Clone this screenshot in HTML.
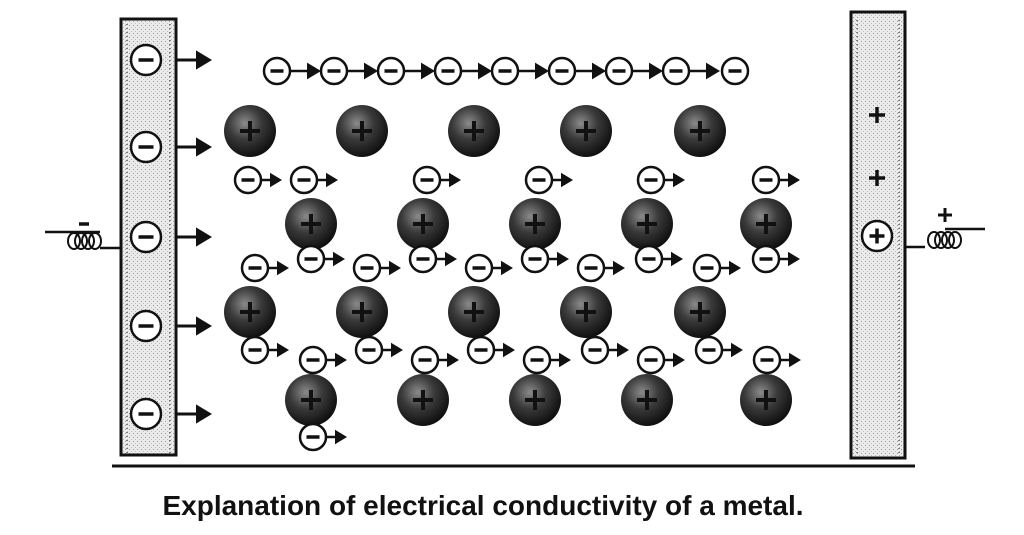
<!DOCTYPE html>
<html><head><meta charset="utf-8"><style>
html,body{margin:0;padding:0;background:#fff;width:1024px;height:535px;overflow:hidden}
#cap{position:absolute;left:0;width:966px;top:490px;text-align:center;font:bold 28px "Liberation Sans",sans-serif;color:#111}
svg{position:absolute;left:0;top:0}
</style></head><body>
<svg id="s" width="1024" height="535" xmlns="http://www.w3.org/2000/svg">
<defs>
<radialGradient id="ion" cx="0.4" cy="0.35" r="0.7">
<stop offset="0" stop-color="#8a8a8a"/><stop offset="0.45" stop-color="#3a3a3a"/><stop offset="1" stop-color="#0a0a0a"/>
</radialGradient>
<pattern id="dots" width="4" height="4" patternUnits="userSpaceOnUse">
<rect width="4" height="4" fill="#ebebeb"/><rect x="1" y="1" width="1" height="1" fill="#999"/><rect x="3" y="3" width="1" height="1" fill="#bbb"/>
</pattern>
</defs>
<g id="g" stroke="#111" fill="none"></g>
</svg>
<div id="cap">Explanation of electrical conductivity of a metal.</div>
<script>
var g=document.getElementById('g'),h='';
function L(x1,y1,x2,y2,w){h+='<line x1="'+x1+'" y1="'+y1+'" x2="'+x2+'" y2="'+y2+'" stroke-width="'+(w||3)+'"/>';}
function tri(x,y,s){h+='<polygon points="'+x+','+(y-s*0.6)+' '+(x+s)+','+y+' '+x+','+(y+s*0.6)+'" fill="#111" stroke="none"/>';}
function el(x,y,r,plus){h+='<circle cx="'+x+'" cy="'+y+'" r="'+r+'" fill="#fff" stroke-width="2.5"/>';L(x-r*0.5,y,x+r*0.5,y,3.5);if(plus)L(x,y-r*0.5,x,y+r*0.5,3.5);}
function ion(x,y){h+='<circle cx="'+x+'" cy="'+y+'" r="26" fill="url(#ion)" stroke="none"/>';L(x-10,y,x+10,y,4);L(x,y-10,x,y+10,4);}
function ea(x,y){el(x,y,13);L(x+13,y,x+24,y,2.5);tri(x+22,y,12);}
h+='<rect x="121" y="19" width="55" height="436" fill="url(#dots)" stroke-width="3"/>';
h+='<rect x="851" y="12" width="54" height="446" fill="url(#dots)" stroke-width="3"/>';
[127,170,857,899].forEach(function(x){h+='<line x1="'+x+'" y1="20" x2="'+x+'" y2="455" stroke="#777" stroke-width="2" stroke-dasharray="1 3"/>';});
[60,147,237,326,414].forEach(function(y){el(146,y,15);L(176,y,198,y,3);tri(196,y,16);});
L(869,115,885,115,3.5);L(877,107,877,123,3.5);
L(869,178,885,178,3.5);L(877,170,877,186,3.5);
el(877,236,15,true);
L(45,232,100,232,2.5);L(100,248,121,248,2.5);
for(var i=0;i<4;i++)h+='<ellipse cx="'+(74+i*7)+'" cy="241" rx="6" ry="8" stroke-width="2"/>';
L(79,224,89,224,3.5);
L(905,247,925,247,2.5);L(945,229,985,229,2.5);
for(var i=0;i<4;i++)h+='<ellipse cx="'+(934+i*7)+'" cy="240" rx="6" ry="8" stroke-width="2"/>';
L(938,215,952,215,3);L(945,208,945,222,3);
L(112,466,915,466,3);
var tx=[277,334,391,448,505,562,619,676,735];
tx.forEach(function(x,i){el(x,71,13);if(i<8){L(x+13,71,x+32,71,2.5);tri(x+30,71,14);}});
[250,362,474,586,700].forEach(function(x){ion(x,131);ion(x,312);});
[311,423,535,647,766].forEach(function(x){ion(x,224);ion(x,400);});
[248,304,427,539,651,766].forEach(function(x){ea(x,180);});
[[255,268],[311,259],[367,268],[423,259],[479,268],[535,259],[591,268],[649,259],[707,268],[766,259]].forEach(function(p){ea(p[0],p[1]);});
[[255,350],[313,360],[369,350],[425,360],[481,350],[537,360],[595,350],[651,360],[709,350],[767,360]].forEach(function(p){ea(p[0],p[1]);});
ea(313,437);
g.innerHTML=h;
</script>
</body></html>
